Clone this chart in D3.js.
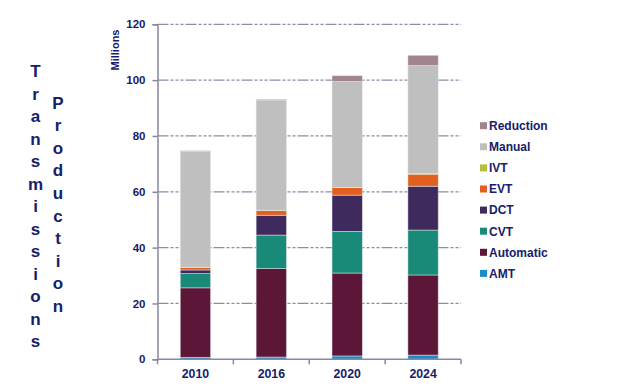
<!DOCTYPE html>
<html><head><meta charset="utf-8">
<script src="https://cdn.jsdelivr.net/npm/d3@7"></script>
<style>
body{margin:0;background:#fff;}
svg text{font-family:"Liberation Sans",Arial,sans-serif;font-weight:bold;fill:#16206a;}
</style></head>
<body><svg id="c" width="621" height="392"></svg>
<script>
const years = ["2010","2016","2020","2024"];
const seriesNames = ["AMT","Automatic","CVT","DCT","EVT","IVT","Manual","Reduction"];
const AMT       = [0.7, 0.8, 1.2, 1.5];
const Automatic = [24.9, 31.7, 29.7, 28.7];
const CVT       = [5.1, 12.0, 14.9, 16.1];
const DCT       = [1.3, 7.1, 13.0, 15.7];
const EVT       = [0.9, 1.7, 2.7, 4.3];
const IVT       = [0.1, 0.1, 0.1, 0.2];
const Manual    = [41.5, 39.3, 37.9, 38.7];
const Reduction = [0.2, 0.4, 2.1, 3.7];
const yTicks = [0,20,40,60,80,100,120];
const colors = {AMT:"#1a8cc8",Automatic:"#5c1738",CVT:"#1a8a78",DCT:"#3f2a5e",EVT:"#e2601f",IVT:"#b5bd3c",Manual:"#bfbfbf",Reduction:"#a0868c"};
const legendOrder = ["Reduction","Manual","IVT","EVT","DCT","CVT","Automatic","AMT"];

const vals = {AMT,Automatic,CVT,DCT,EVT,IVT,Manual,Reduction};
const table = years.map((y,i)=>{const o={year:y};seriesNames.forEach(s=>o[s]=vals[s][i]);return o;});
const stacked = d3.stack().keys(seriesNames)(table);

const svg = d3.select("#c");
const x = d3.scaleBand().domain(years).range([157.5,461]).paddingInner(0.6).paddingOuter(0.3);
const xTick = d3.scaleBand().domain(years).range([157.5,461]);
const y = d3.scaleLinear().domain([0,120]).range([359.3,24.3]);

// gridlines
svg.append("g").selectAll("line").data(yTicks.filter(d=>d>0)).join("line")
  .attr("x1",157.5).attr("x2",461).attr("y1",d=>y(d)).attr("y2",d=>y(d))
  .attr("stroke","#8c8ca6").attr("stroke-width",1.2).attr("stroke-dasharray","11,2,3,2,3,2,3,2");

// bars
svg.append("g").selectAll("g").data(stacked).join("g").attr("fill",d=>colors[d.key])
  .selectAll("rect").data(d=>d).join("rect")
  .attr("x",d=>x(d.data.year)).attr("width",x.bandwidth())
  .attr("y",d=>y(d[1])).attr("height",d=>Math.max(0,y(d[0])-y(d[1])))
  .attr("stroke","rgba(235,235,235,0.6)").attr("stroke-width",0.8);

// y axis
const ya = svg.append("g").attr("transform","translate(157.5,0)")
  .call(d3.axisLeft(y).tickValues(yTicks).tickSize(5).tickPadding(7));
ya.select(".domain").attr("stroke","#8888a0").attr("stroke-width",1.5);
ya.selectAll(".tick line").attr("stroke","#8888a0").attr("stroke-width",1.5);
ya.selectAll("text").attr("font-size",11.5).style("font-family","Liberation Sans, Arial").style("font-weight","bold").attr("fill","#16206a");

// x axis
const xa = svg.append("g").attr("transform","translate(0,359.3)");
xa.append("line").attr("x1",157.5).attr("x2",461).attr("stroke","#8888a0").attr("stroke-width",1.5);
const bounds = years.map(d=>xTick(d)).concat([461]);
xa.selectAll("line.t").data(bounds).join("line").attr("class","t")
  .attr("x1",d=>d).attr("x2",d=>d).attr("y1",0).attr("y2",5).attr("stroke","#8888a0").attr("stroke-width",1.5);
xa.selectAll("text").data(years).join("text")
  .attr("x",d=>x(d)+x.bandwidth()/2).attr("y",18.5).attr("text-anchor","middle")
  .attr("font-size",12.3).text(d=>d);

// Millions label
svg.append("text").attr("transform","translate(119,50) rotate(-90)").attr("text-anchor","middle")
  .attr("font-size",11).text("Millions");

// legend
const lg = svg.append("g");
legendOrder.forEach((s,i)=>{
  const cy = 125.7 + i*21.1;
  lg.append("rect").attr("x",480).attr("y",cy-3.5).attr("width",7).attr("height",7).attr("fill",colors[s]);
  lg.append("text").attr("x",489).attr("y",cy+4.3).attr("font-size",12).text(s);
});

// vertical title
const t1 = "Transmissions".split(""), t2 = "Production".split("");
svg.append("g").selectAll("text").data(t1).join("text")
  .attr("x",35.5).attr("y",(d,i)=>77.3+i*22.5).attr("text-anchor","middle").attr("font-size",17).text(d=>d);
svg.append("g").selectAll("text").data(t2).join("text")
  .attr("x",58).attr("y",(d,i)=>108.5+i*22.6).attr("text-anchor","middle").attr("font-size",17).text(d=>d);
</script></body></html>
